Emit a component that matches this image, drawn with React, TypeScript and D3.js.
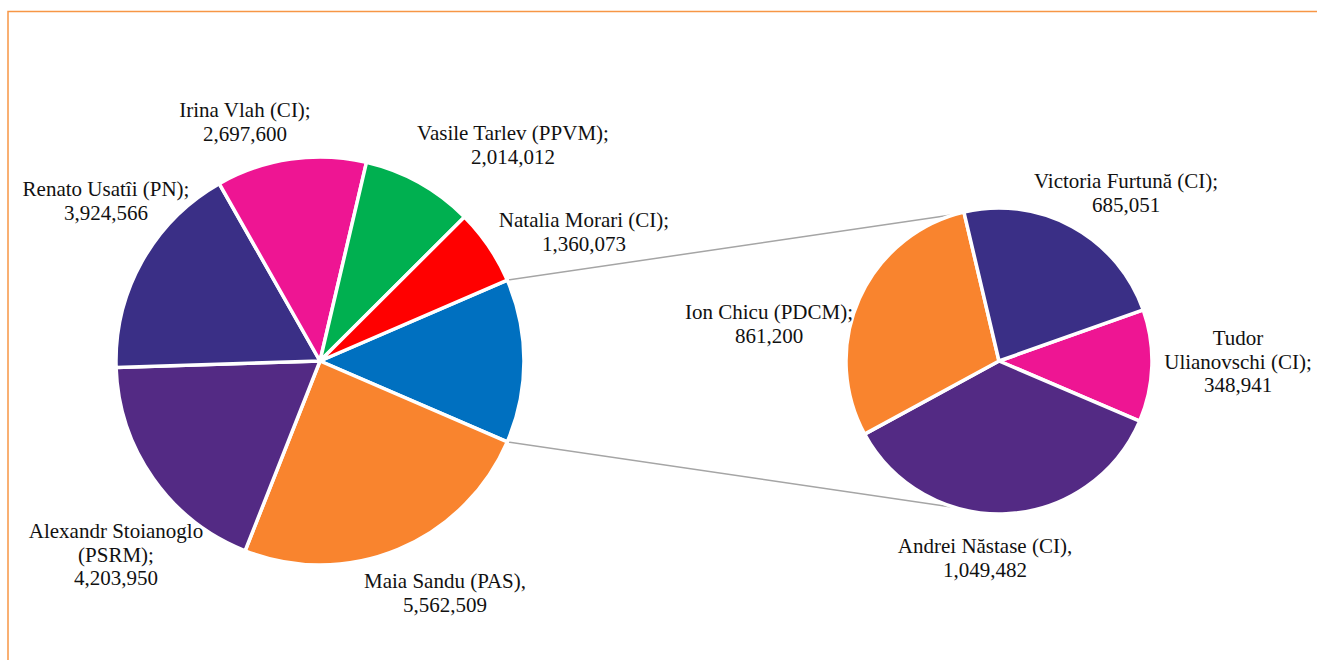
import React from "react";
import * as d3 from "d3";

// Main pie: "Other" (blue) groups the secondary pie's candidates
const mainNames = ["Other", "Maia Sandu (PAS)", "Alexandr Stoianoglo (PSRM)", "Renato Usatîi (PN)", "Irina Vlah (CI)", "Vasile Tarlev (PPVM)", "Natalia Morari (CI)"];
const mainValues = [0, 5562509, 4203950, 3924566, 2697600, 2014012, 1360073];
const mainColors = ["#0070C0", "#F9842E", "#532A84", "#3A2F86", "#EE1593", "#00B050", "#FF0000"];

const secNames = ["Tudor Ulianovschi (CI)", "Andrei Năstase (CI)", "Ion Chicu (PDCM)", "Victoria Furtună (CI)"];
const secValues = [348941, 1049482, 861200, 685051];
const secColors = ["#EE1593", "#532A84", "#F9842E", "#3A2F86"];

const otherTotal = d3.sum(secValues);
const mainData = mainValues.map((v, i) => (i === 0 ? otherTotal : v));

const fmt = d3.format(",");

// label lines (text, value)
const mainLabelLines: string[][] = [
  [],
  ["Maia Sandu (PAS),", fmt(mainData[1])],
  ["Alexandr Stoianoglo", "(PSRM);", fmt(mainData[2])],
  ["Renato Usatîi (PN);", fmt(mainData[3])],
  ["Irina Vlah (CI);", fmt(mainData[4])],
  ["Vasile Tarlev (PPVM);", fmt(mainData[5])],
  ["Natalia Morari (CI);", fmt(mainData[6])],
];
const secLabelLines: string[][] = [
  ["Tudor", "Ulianovschi (CI);", fmt(secValues[0])],
  ["Andrei Năstase (CI),", fmt(secValues[1])],
  ["Ion Chicu (PDCM);", fmt(secValues[2])],
  ["Victoria Furtună (CI);", fmt(secValues[3])],
];
const mainLabelPos = [null, [445, 588], [116, 538], [106, 196], [245, 117], [513, 140], [584, 227]];
const secLabelPos = [[1238, 345], [985, 553], [769, 319], [1126, 188]];

export default function App() {
  const W = 1317, H = 660;
  const mc = [320, 361], mr = 204;
  const sc = [999, 361], sr = 153;
  const deg = Math.PI / 180;
  const total = d3.sum(mainData);
  const otherAngle = (otherTotal / total) * 2 * Math.PI;
  const mainStart = Math.PI / 2 - otherAngle / 2;
  const mainArcs = d3.pie<number>().sort(null).value((d) => d)
    .startAngle(mainStart).endAngle(mainStart + 2 * Math.PI)(mainData);
  const secStart = 70.5 * deg;
  const secArcs = d3.pie<number>().sort(null).value((d) => d)
    .startAngle(secStart).endAngle(secStart + 2 * Math.PI)(secValues);
  const mArc = d3.arc<d3.PieArcDatum<number>>().innerRadius(0).outerRadius(mr);
  const sArc = d3.arc<d3.PieArcDatum<number>>().innerRadius(0).outerRadius(sr);

  const o = mainArcs[0];
  const p1 = [mc[0] + mr * Math.sin(o.startAngle), mc[1] - mr * Math.cos(o.startAngle)];
  const p2 = [mc[0] + mr * Math.sin(o.endAngle), mc[1] - mr * Math.cos(o.endAngle)];
  const lineH = 23.5;
  const font = "'Liberation Serif', 'Times New Roman', serif";

  const renderLabel = (lines: string[], pos: number[], key: string) => (
    <text key={key} x={pos[0]} y={pos[1]} textAnchor="middle" fontFamily={font} fontSize={21} fill="#111">
      {lines.map((l, j) => (
        <tspan key={j} x={pos[0]} dy={j === 0 ? 0 : lineH}>{l}</tspan>
      ))}
    </text>
  );

  return (
    <svg width={W} height={H} style={{ position: "absolute", left: 0, top: 0, background: "#fff" }}>
      <rect x={0} y={0} width={W} height={H} fill="#fff" />
      <path d={`M8,${H + 5} L8,11.5 L${W + 5},11.5`} fill="none" stroke="#F79646" strokeWidth={1.5} />
      <line x1={p1[0]} y1={p1[1]} x2={sc[0]} y2={sc[1] - sr} stroke="#A5A5A5" strokeWidth={1.5} />
      <line x1={p2[0]} y1={p2[1]} x2={sc[0]} y2={sc[1] + sr} stroke="#A5A5A5" strokeWidth={1.5} />
      <g transform={`translate(${mc[0]},${mc[1]})`}>
        {mainArcs.map((a, i) => (
          <path key={i} d={mArc(a) || ""} fill={mainColors[i]} stroke="#fff" strokeWidth={3.5} strokeLinejoin="round" />
        ))}
      </g>
      <g transform={`translate(${sc[0]},${sc[1]})`}>
        {secArcs.map((a, i) => (
          <path key={i} d={sArc(a) || ""} fill={secColors[i]} stroke="#fff" strokeWidth={3.5} strokeLinejoin="round" />
        ))}
      </g>
      {mainLabelLines.map((lines, i) => (i === 0 ? null : renderLabel(lines, mainLabelPos[i] as number[], "m" + i)))}
      {secLabelLines.map((lines, i) => renderLabel(lines, secLabelPos[i], "s" + i))}
    </svg>
  );
}
